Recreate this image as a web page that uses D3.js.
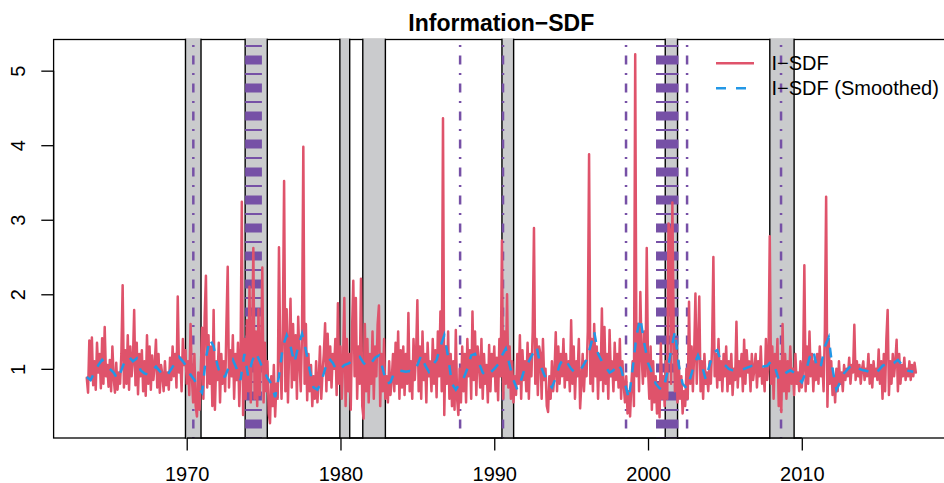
<!DOCTYPE html>
<html><head><meta charset="utf-8">
<script src="https://cdn.jsdelivr.net/npm/d3@7"></script>
<style>
body{margin:0;background:#fff}
svg{display:block}
text{font-family:"Liberation Sans",Arial,Helvetica,sans-serif;fill:#000}
</style>
</head><body>
<svg id="chart" width="944" height="483"></svg>
<script>
// ---------------- DATA ----------------
const chartTitle = "Information\u2212SDF";
const seriesNames = ["I\u2212SDF", "I\u2212SDF (Smoothed)"];
const startYear = 1963.5;          // first observation (July 1963)
const monthStep = 1 / 12;           // I-SDF is monthly
const quarterStep = 1 / 4;          // smoothed series read quarterly

// I-SDF, monthly, Jul 1963 .. Jun 2017
const isdf = [
  0.88,0.68,1.38,0.85,1.42,0.78,                                   // 1963 (Jul-Dec)
  1.10,0.72,1.35,0.95,1.20,0.74,1.41,0.80,1.56,0.90,1.05,0.76,     // 1964
  1.12,0.70,1.30,0.88,0.68,1.08,0.72,0.95,0.80,1.20,2.12,0.75,     // 1965
  1.25,0.80,1.45,0.72,1.30,0.90,1.10,1.79,0.78,1.35,0.66,1.20,     // 1966
  0.90,1.25,0.70,1.10,0.64,1.45,0.80,1.30,0.72,1.18,0.85,1.05,     // 1967
  1.39,0.75,1.20,0.68,1.05,0.92,0.70,1.10,0.78,0.95,0.72,1.15,     // 1968
  0.85,1.30,0.90,1.20,0.75,1.97,0.95,1.15,0.70,1.40,1.05,1.25,     // 1969
  0.80,1.10,0.65,1.60,0.90,0.55,1.20,0.50,0.36,0.95,0.45,1.00,     // 1970
  1.55,0.60,1.70,2.25,0.75,1.45,0.80,1.30,0.50,1.79,0.45,1.10,     // 1971
  0.85,1.35,0.55,1.20,0.80,1.10,0.70,1.60,2.37,0.75,1.25,0.90,     // 1972
  1.45,0.60,1.20,0.85,1.35,0.50,1.10,3.24,0.38,1.40,0.60,1.65,     // 1973
  0.70,2.10,0.55,1.30,2.62,0.60,1.50,0.50,1.80,0.65,1.20,2.36,     // 1974
  0.55,1.35,0.70,1.10,0.40,0.27,0.90,0.50,1.05,0.36,0.80,0.60,     // 1975
  2.63,1.20,0.60,1.50,3.52,0.70,1.80,0.55,1.30,1.94,0.75,1.60,     // 1976
  0.85,1.45,0.60,1.70,1.10,0.70,1.50,3.98,0.80,1.60,0.58,1.20,     // 1977
  0.70,1.05,0.50,0.90,0.60,1.10,0.55,0.85,1.30,0.60,0.95,1.20,     // 1978
  1.61,0.70,1.47,0.85,1.30,0.75,1.20,1.00,1.40,0.65,1.88,0.80,     // 1979
  1.30,0.60,1.10,1.95,0.50,1.40,0.70,1.20,0.45,1.50,2.18,0.90,     // 1980
  1.95,0.60,1.30,0.80,2.21,0.50,0.33,1.60,0.70,1.40,0.55,1.20,     // 1981
  0.80,1.50,0.60,1.30,0.90,1.60,1.85,0.50,1.20,0.70,1.40,0.60,     // 1982
  0.90,0.55,1.10,0.65,0.85,1.20,0.70,1.35,0.80,1.50,0.60,1.25,     // 1983
  0.75,1.30,0.65,1.20,0.80,1.75,0.70,1.10,0.60,1.40,0.85,1.20,     // 1984
  1.92,0.70,1.30,0.60,1.50,0.85,1.20,0.55,1.35,0.90,1.10,0.70,     // 1985
  1.40,0.80,1.25,0.62,1.50,0.90,1.77,0.70,4.36,0.38,1.30,0.80,     // 1986
  1.50,0.60,1.20,0.50,1.10,0.45,1.52,0.60,0.38,1.00,0.55,1.30,     // 1987
  0.70,1.20,0.55,1.40,0.90,1.25,0.60,1.77,0.85,1.50,0.65,1.30,     // 1988
  1.10,0.75,1.40,0.60,1.20,0.80,1.05,0.55,1.32,0.70,1.20,0.90,     // 1989
  1.30,0.70,1.15,0.58,1.40,0.90,2.72,0.60,1.50,0.80,2.00,0.75,     // 1990
  1.30,0.60,1.10,0.55,0.90,0.65,1.20,0.80,1.45,0.60,1.25,0.85,     // 1991
  1.10,0.70,1.35,0.60,1.20,0.90,1.50,2.89,0.80,1.40,0.65,1.30,     // 1992
  1.20,0.60,1.40,0.85,1.00,0.50,0.42,0.90,0.60,1.10,0.70,0.95,     // 1993
  1.49,0.70,1.30,0.80,1.20,0.90,1.40,0.75,1.20,0.85,1.10,0.70,     // 1994
  1.65,0.80,1.30,0.60,1.10,0.90,1.40,0.47,0.80,1.20,0.70,1.10,     // 1995
  0.90,1.50,3.88,0.80,1.40,0.70,1.60,0.90,1.30,0.60,1.20,0.85,     // 1996
  1.81,0.70,1.56,0.80,1.20,0.60,1.52,0.90,1.10,0.70,1.35,0.85,     // 1997
  1.20,0.75,1.40,0.60,1.10,0.80,0.55,0.90,0.40,0.70,0.36,0.80,     // 1998
  1.10,0.50,5.22,0.90,1.60,0.70,2.03,1.20,0.80,1.50,0.90,2.62,     // 1999
  1.00,0.60,1.30,0.45,1.10,0.55,0.90,0.40,0.80,0.35,1.34,0.60,     // 2000
  0.90,0.50,1.10,0.60,2.95,2.86,0.80,3.23,1.52,0.70,1.40,0.55,     // 2001
  1.10,0.60,0.90,0.40,0.70,0.50,1.00,0.60,1.90,0.80,1.30,0.70,     // 2002
  1.20,2.01,0.80,1.30,1.97,0.70,1.10,0.60,1.20,0.80,0.95,0.70,     // 2003
  1.10,0.80,1.30,2.50,0.90,1.20,0.75,1.40,0.85,1.10,0.70,1.20,     // 2004
  0.90,1.30,0.70,1.10,0.80,1.20,0.65,1.00,0.85,1.63,0.75,1.10,     // 2005
  0.90,1.20,0.70,1.39,0.80,1.25,0.95,1.10,0.70,1.20,0.85,1.00,     // 2006
  1.20,0.75,1.10,0.90,1.30,0.80,1.00,0.70,1.40,0.85,1.10,2.78,     // 2007
  0.80,1.30,0.60,1.20,0.90,1.40,0.50,1.10,0.42,1.60,0.70,1.20,     // 2008
  0.60,1.10,0.70,1.30,0.80,1.00,0.65,1.20,0.80,0.95,0.70,1.10,     // 2009
  0.75,1.00,2.39,0.70,1.30,0.80,1.50,0.90,1.20,0.70,1.10,0.85,     // 2010
  1.20,0.80,1.30,0.90,1.10,0.70,1.50,3.31,0.49,1.40,0.80,1.10,     // 2011
  0.65,0.90,0.55,1.00,0.70,1.10,0.80,0.95,0.70,1.05,0.85,1.00,     // 2012
  0.90,1.15,0.80,1.05,0.95,1.59,0.85,1.10,0.90,1.05,0.80,1.00,     // 2013
  1.10,0.85,1.00,0.90,1.20,0.80,1.05,0.75,1.10,0.90,1.00,0.85,     // 2014
  1.26,0.80,1.10,0.60,1.20,0.70,1.40,1.79,0.65,1.10,0.80,1.20,     // 2015
  0.90,1.10,1.39,0.70,1.20,0.80,1.05,0.90,1.15,0.85,1.00,0.90,     // 2016
  1.10,0.85,1.05,0.90,1.08,0.95                                    // 2017 (Jan-Jun)
];

// I-SDF (Smoothed), read quarterly, 1963.5 .. 2017.25
const isdfSmooth = [
  0.89,0.85,                    // 1963
  0.95,1.05,1.12,1.06,          // 1964
  1.00,0.95,0.86,0.98,          // 1965
  1.12,1.16,1.10,1.14,          // 1966
  0.98,0.94,0.92,0.98,          // 1967
  1.03,0.97,0.90,0.92,          // 1968
  1.00,1.08,1.16,1.10,          // 1969
  1.03,0.92,0.85,0.75,          // 1970
  0.68,1.15,1.40,1.30,          // 1971
  1.05,0.88,0.90,1.03,          // 1972
  1.12,1.00,0.85,1.20,          // 1973
  0.90,1.10,1.22,1.10,          // 1974
  0.98,0.88,0.80,0.62,          // 1975
  0.90,1.30,1.45,1.30,          // 1976
  1.08,1.30,1.47,1.25,          // 1977
  0.98,0.75,0.72,0.82,          // 1978
  1.00,1.14,1.08,0.98,          // 1979
  1.00,1.05,1.07,1.10,          // 1980
  1.14,1.16,1.08,1.03,          // 1981
  1.08,1.15,1.18,1.00,          // 1982
  0.80,0.82,0.95,0.98,          // 1983
  0.97,0.96,0.97,0.96,          // 1984
  1.05,1.18,1.05,0.96,          // 1985
  1.05,1.12,1.30,1.45,          // 1986
  1.16,0.80,0.72,0.80,          // 1987
  0.87,1.00,1.18,1.20,          // 1988
  1.08,0.95,0.90,0.95,          // 1989
  1.00,1.06,1.18,1.27,          // 1990
  1.05,0.85,0.72,0.85,          // 1991
  1.02,1.10,1.20,1.30,          // 1992
  1.05,0.92,0.82,0.75,          // 1993
  0.88,1.05,1.14,1.08,          // 1994
  1.00,0.95,0.96,1.03,          // 1995
  1.12,1.30,1.50,1.20,          // 1996
  1.10,1.02,0.95,0.98,          // 1997
  1.07,1.00,0.80,0.60,          // 1998
  1.00,1.45,1.68,1.35,          // 1999
  1.08,0.95,0.80,0.74,          // 2000
  0.72,0.95,1.25,1.50,          // 2001
  1.05,0.80,0.74,0.88,          // 2002
  1.05,1.18,1.05,0.86,          // 2003
  1.05,1.22,1.25,1.10,          // 2004
  1.05,1.00,0.98,0.98,          // 2005
  0.98,1.00,1.02,1.04,          // 2006
  1.05,1.04,1.03,1.04,          // 2007
  1.10,1.02,0.86,0.88,          // 2008
  0.95,0.98,0.95,0.88,          // 2009
  0.82,0.95,1.15,1.25,          // 2010
  1.00,1.05,1.30,1.42,          // 2011
  1.00,0.72,0.82,0.94,          // 2012
  1.00,1.05,1.03,1.00,          // 2013
  0.98,0.97,0.95,0.94,          // 2014
  0.98,1.04,1.07,1.05,          // 2015
  1.08,1.12,1.06,0.98,          // 2016
  0.97,0.96                     // 2017
];

// NBER recessions (start, end) in decimal years
const recessions = [
  [1969.92, 1970.93], [1973.80, 1975.24], [1979.96, 1980.60],
  [1981.45, 1982.92], [1990.50, 1991.26], [2001.12, 2001.92],
  [2007.92, 2009.50]
];
// single event dates (dot-dash lines)
const eventDates = [1970.43, 1987.78, 1990.57, 1998.57, 2002.54, 2008.65];
// periods with dense event lines
const eventPeriods = [[1973.80, 1974.89], [2000.52, 2001.98]];

const xTickValues = [1970, 1980, 1990, 2000, 2010];
const yTickValues = [1, 2, 3, 4, 5];

// ---------------- CHART ----------------
const svg = d3.select("#chart");
const plot = {left: 53.6, top: 39.5, bottom: 438, right: 949};
const RED = "#DF536B", BLUE = "#2297E6", PURPLE = "#7650A6", GRAY = "#CACBCD";
const FS = 20;

const redPts = isdf.map((v, i) => ({t: startYear + i * monthStep, v}));
const bluePts = isdfSmooth.map((v, i) => ({t: startYear + i * quarterStep, v}));

// R-style 4% padding around the data range
const tExt = d3.extent(redPts, d => d.t);
const vExt = d3.extent(redPts, d => d.v);
const tPad = (tExt[1] - tExt[0]) * 0.04, vPad = (vExt[1] - vExt[0]) * 0.04;
const x = d3.scaleLinear().domain([tExt[0] - tPad, tExt[1] + tPad]).range([plot.left, plot.right]);
const y = d3.scaleLinear().domain([vExt[0] - vPad, vExt[1] + vPad]).range([plot.bottom, plot.top]);

// plot box
svg.append("rect")
  .attr("x", plot.left).attr("y", plot.top)
  .attr("width", plot.right - plot.left).attr("height", plot.bottom - plot.top)
  .attr("fill", "none").attr("stroke", "#000").attr("stroke-width", 1.3);

// recession bands
const bands = svg.append("g");
recessions.forEach(([a, b]) => {
  bands.append("rect")
    .attr("x", x(a)).attr("y", plot.top - 0.8)
    .attr("width", x(b) - x(a)).attr("height", plot.bottom - plot.top + 1.6)
    .attr("fill", GRAY);
  [a, b].forEach(t => bands.append("line")
    .attr("x1", x(t)).attr("x2", x(t))
    .attr("y1", plot.top - 0.8).attr("y2", plot.bottom + 0.8)
    .attr("stroke", "#000").attr("stroke-width", 1.4));
});

// event lines (R "dotdash")
const dotdash = "2,8.5,9,8.5";
const dashOff = 22.5;
const ev = svg.append("g");
eventPeriods.forEach(([a, b]) => {
  ev.append("line")
    .attr("x1", (x(a) + x(b)) / 2).attr("x2", (x(a) + x(b)) / 2)
    .attr("y1", plot.top).attr("y2", plot.bottom)
    .attr("stroke", PURPLE).attr("stroke-width", x(b) - x(a))
    .attr("stroke-dasharray", dotdash).attr("stroke-dashoffset", dashOff);
});
eventDates.forEach(t => {
  ev.append("line")
    .attr("x1", x(t)).attr("x2", x(t))
    .attr("y1", plot.top).attr("y2", plot.bottom)
    .attr("stroke", PURPLE).attr("stroke-width", 2.5)
    .attr("stroke-dasharray", dotdash).attr("stroke-dashoffset", dashOff);
});

// series
const line = d3.line().x(d => x(d.t)).y(d => y(d.v));
svg.append("path").datum(redPts).attr("d", line)
  .attr("fill", "none").attr("stroke", RED).attr("stroke-width", 2.5)
  .attr("stroke-linejoin", "round").attr("stroke-linecap", "round");
svg.append("path").datum(bluePts).attr("d", line)
  .attr("fill", "none").attr("stroke", BLUE).attr("stroke-width", 2.5)
  .attr("stroke-dasharray", "10,10");

// axes (R style)
const xAxis = d3.axisBottom(x).tickValues(xTickValues).tickFormat(d3.format("d")).tickSize(12.5);
const gx = svg.append("g").attr("transform", `translate(0,${plot.bottom})`).call(xAxis);
gx.select(".domain").attr("d", `M${x(xTickValues[0])},0H${x(xTickValues[xTickValues.length-1])}`).attr("stroke-width", 1.3);
gx.selectAll(".tick line").attr("stroke-width", 1.3);
gx.selectAll(".tick text").attr("font-size", FS).attr("dy", 0).attr("y", 42.5)
  .style("font-family", '"Liberation Sans",Arial,sans-serif');

const yAxis = d3.axisLeft(y).tickValues(yTickValues).tickFormat(d3.format("d")).tickSize(12.3);
const gy = svg.append("g").attr("transform", `translate(${plot.left},0)`).call(yAxis);
gy.select(".domain").attr("d", `M0,${y(yTickValues[0])}V${y(yTickValues[yTickValues.length-1])}`).attr("stroke-width", 1.3);
gy.selectAll(".tick line").attr("stroke-width", 1.3);
gy.selectAll(".tick text").remove();
gy.selectAll(".tick").append("text")
  .attr("transform", "translate(-28.6,0) rotate(-90)")
  .attr("text-anchor", "middle").attr("font-size", FS).attr("fill", "#000")
  .style("font-family", '"Liberation Sans",Arial,sans-serif')
  .text(d => d);

// title
svg.append("text").attr("x", (plot.left + plot.right) / 2).attr("y", 31)
  .attr("text-anchor", "middle").attr("font-weight", "bold").attr("font-size", 23)
  .text(chartTitle);

// legend (no box)
const lg = svg.append("g");
const legendRows = [
  {name: seriesNames[0], color: RED, dash: null, cy: 63.3},
  {name: seriesNames[1], color: BLUE, dash: "10,10", cy: 88.3}
];
legendRows.forEach(r => {
  lg.append("line").attr("x1", 716).attr("x2", 754).attr("y1", r.cy).attr("y2", r.cy)
    .attr("stroke", r.color).attr("stroke-width", 2.5)
    .attr("stroke-dasharray", r.dash);
  lg.append("text").attr("x", 771.5).attr("y", r.cy + 7).attr("font-size", FS).text(r.name);
});
</script>
</body></html>
